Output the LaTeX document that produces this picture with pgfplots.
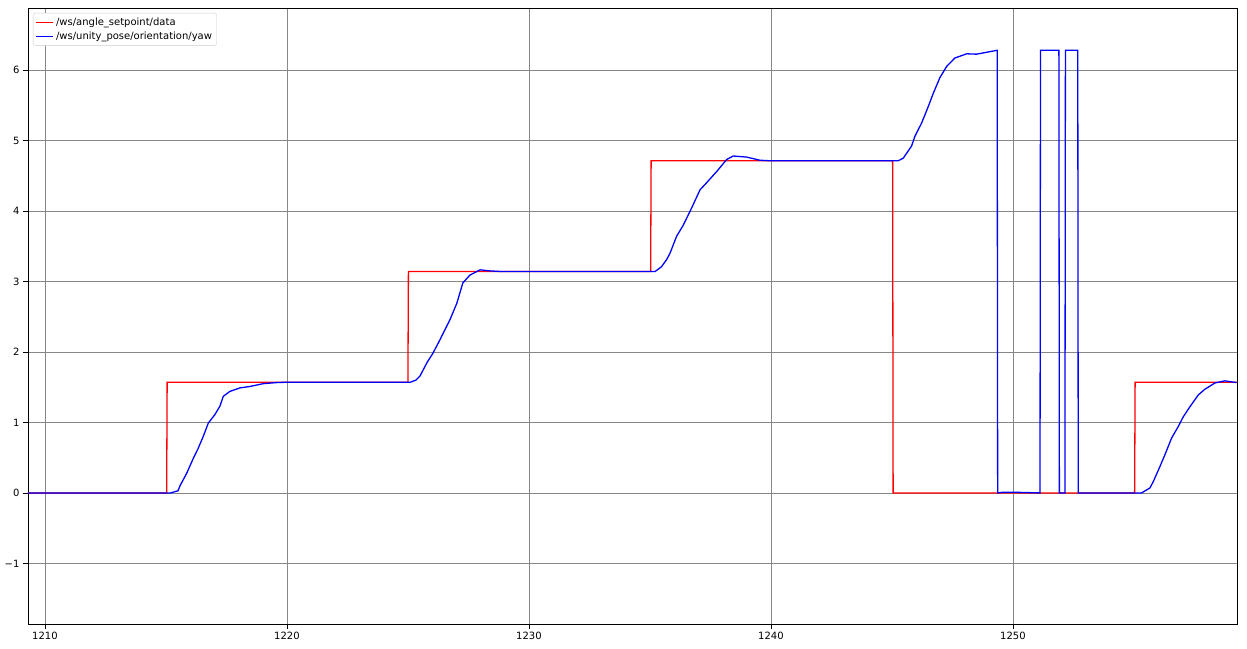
\documentclass[border=0pt]{standalone}
\usepackage{fontspec}
\setmainfont{DejaVu Sans}
\usepackage{pgfplots}
\pgfplotsset{compat=1.18}
\definecolor{gridgray}{RGB}{135,135,135}
\definecolor{legedge}{RGB}{204,204,204}
\definecolor{mplred}{RGB}{255,0,0}
\definecolor{mplblue}{RGB}{0,0,255}
\begin{document}
\begin{tikzpicture}[font=\fontsize{10}{12}\selectfont]
\useasboundingbox (-28pt,-24pt) rectangle (1219pt,624pt);
\begin{axis}[
  scale only axis,
  width=1209pt, height=616pt,
  xmin=1209.3, xmax=1259.26,
  ymin=-1.86, ymax=6.88,
  xtick={1210,1220,1230,1240,1250},
  ytick={-1,0,1,2,3,4,5,6},
  yticklabels={−1,0,1,2,3,4,5,6},
  /pgf/number format/assume math mode=true,
  /pgf/number format/1000 sep={},
  tick align=outside,
  tick pos=left,
  major tick length=5pt,
  grid=major,
  major grid style={color=gridgray, line width=0.8pt},
  axis line style={color=black, line width=0.8pt},
  every tick/.style={color=black, line width=0.8pt},
  legend cell align=left,
  legend style={at={(rel axis cs:0,1)}, anchor=north west, xshift=5pt, yshift=-5pt,
    draw=legedge, fill=white, rounded corners=2pt,
    inner sep=2.5pt, row sep=1pt},
]
\addplot[color=mplred, line width=1.3pt] coordinates {
(1209.3,0) (1215.03,0) (1215.05,1.5708) (1225.0,1.5708) (1225.02,3.1416) (1235.03,3.1416) (1235.05,4.7124) (1245.03,4.7124) (1245.05,0) (1255.03,0) (1255.05,1.5708) (1259.26,1.5708)
};
\addlegendentry{/ws/angle\_setpoint/data}
\addplot[color=mplblue, line width=1.3pt] coordinates {
(1209.3,0) (1215.2,0) (1215.5,0.03) (1215.58,0.10) (1215.86,0.28) (1216.13,0.49) (1216.33,0.63) (1216.54,0.80) (1216.75,0.99) (1217.02,1.11) (1217.23,1.23) (1217.37,1.37) (1217.64,1.44) (1218.06,1.49) (1218.47,1.51) (1219.02,1.55) (1219.57,1.565) (1220,1.5708) (1225.1,1.5708) (1225.33,1.60) (1225.5,1.66) (1225.79,1.85) (1226.03,1.98) (1226.32,2.17) (1226.74,2.46) (1227.02,2.69) (1227.27,2.98) (1227.56,3.09) (1227.98,3.165) (1228.39,3.15) (1228.8,3.142) (1235.07,3.142) (1235.21,3.14) (1235.48,3.21) (1235.69,3.31) (1235.83,3.40) (1236.10,3.64) (1236.38,3.80) (1236.72,4.04) (1237.07,4.30) (1237.34,4.40) (1237.76,4.56) (1238.17,4.73) (1238.44,4.78) (1238.99,4.765) (1239.55,4.72) (1240,4.712) (1245.26,4.712) (1245.47,4.75) (1245.81,4.92) (1245.95,5.06) (1246.23,5.25) (1246.50,5.48) (1246.71,5.67) (1246.98,5.89) (1247.26,6.05) (1247.60,6.17) (1248.09,6.23) (1248.50,6.225) (1249.35,6.28) (1249.37,0) (1249.6,0.01) (1250.01,0.01) (1251.12,0) (1251.14,6.28) (1251.9,6.28) (1251.92,0) (1252.15,0) (1252.17,6.28) (1252.68,6.28) (1252.70,0) (1255.32,0) (1255.66,0.07) (1255.80,0.16) (1256.07,0.37) (1256.28,0.54) (1256.56,0.78) (1256.83,0.94) (1257.04,1.08) (1257.31,1.22) (1257.66,1.39) (1257.93,1.47) (1258.35,1.56) (1258.76,1.59) (1259.24,1.565)
};
\addlegendentry{/ws/unity\_pose/orientation/yaw}
\end{axis}
\end{tikzpicture}
\end{document}
